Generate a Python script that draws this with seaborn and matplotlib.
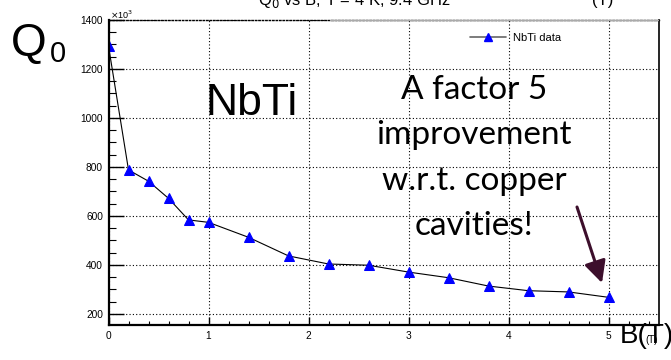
import numpy as np
import pandas as pd
import matplotlib
matplotlib.use("Agg")
import matplotlib.pyplot as plt
from matplotlib.lines import Line2D
import seaborn as sns

# ---- data (Q0 in units of 10^3) ----
B_tesla = [0.0, 0.2, 0.4, 0.6, 0.8, 1.0, 1.4, 1.8, 2.2, 2.6, 3.0, 3.4, 3.8, 4.2, 4.6, 5.0]
Q0_e3 = [1294, 788, 742, 672, 584, 574, 513, 437, 404, 399, 371, 348, 314, 295, 290, 268]
x_ticks = [0, 1, 2, 3, 4, 5]
y_ticks = [200, 400, 600, 800, 1000, 1200, 1400]
series_label = "NbTi data"
annotation_lines = ["A factor 5", "improvement", "w.r.t. copper", "cavities!"]

df = pd.DataFrame({"B": B_tesla, "Q0": Q0_e3})

sns.set_theme(style="white")
plt.rcParams["font.family"] = ["Liberation Sans", "DejaVu Sans"]
plt.rcParams["text.color"] = "black"
plt.rcParams["axes.labelcolor"] = "black"
plt.rcParams["xtick.color"] = "black"
plt.rcParams["ytick.color"] = "black"

W, H = 671, 360
fig = plt.figure(figsize=(W / 100, H / 100), dpi=100)
ax = fig.add_axes([108.5 / W, 35 / H, 550 / W, 305 / H])

sns.lineplot(data=df, x="B", y="Q0", ax=ax, color="black", linewidth=0.8,
             marker="^", markersize=6.5, markerfacecolor="blue",
             markeredgecolor="blue", legend=False)

ax.set_xlim(0, 5.5)
ax.set_ylim(155, 1400)
ax.set_xticks(x_ticks)
ax.set_xticklabels([str(t) for t in x_ticks])
ax.set_yticks(y_ticks)
ax.set_yticklabels([str(t) for t in y_ticks])
ax.set_xticks(np.arange(0, 5.5, 0.2), minor=True)
ax.set_yticks(np.arange(200, 1400, 50), minor=True)
ax.set_xlabel("")
ax.set_ylabel("")

ax.tick_params(axis="both", which="major", direction="in", labelsize=7.3,
               colors="black", width=1.0)
ax.tick_params(axis="both", which="minor", direction="in", colors="black")
ax.tick_params(axis="y", which="major", length=11, pad=4, left=True)
ax.tick_params(axis="y", which="minor", length=5, width=0.8, left=True)
ax.tick_params(axis="x", which="major", length=6, pad=4, bottom=True)
ax.tick_params(axis="x", which="minor", length=3, width=0.8, bottom=True)

ax.grid(True, which="major", color="black", linestyle=(0, (1, 2)), linewidth=0.8)

for side in ["left", "bottom"]:
    ax.spines[side].set_linewidth(1.6)
    ax.spines[side].set_color("black")
ax.spines["right"].set_linewidth(1.2)
ax.spines["right"].set_color("black")
ax.spines["top"].set_linewidth(1.0)
ax.spines["top"].set_color("black")
ax.spines["top"].set_linestyle((0, (1, 1.5)))

# legend
handle = Line2D([], [], color="#666666", linewidth=1.2, marker="^",
                markersize=6, markerfacecolor="blue", markeredgecolor="blue")
leg = ax.legend([handle], [series_label], loc="upper left",
                bbox_to_anchor=((470 - 108.5) / 550, (360 - 33 - 35) / 305),
                frameon=False, fontsize=8, handlelength=3.2, handletextpad=0.7,
                borderpad=0, borderaxespad=0)
for t in leg.get_texts():
    t.set_color("black")

def fp(x, y):
    return (x / W, 1 - y / H)

# ×10^3 multiplier
fig.text(*fp(110, 19), r"$\times$10$^{3}$", fontsize=6.5, ha="left", va="baseline")

# Q0 y-label
fig.text(*fp(11, 56), "Q", fontsize=33, ha="left", va="baseline")
fig.text(*fp(50, 62), "0", fontsize=21, ha="left", va="baseline")

# clipped title
fig.text(*fp(258, 5), r"Q$_0$ vs B, T = 4 K, 9.4 GHz", fontsize=12,
         ha="left", va="baseline")
fig.text(*fp(592, 5), "(T)", fontsize=12, ha="left", va="baseline")
fig.add_artist(Line2D([330 / W, 658 / W], [1 - 19.5 / H, 1 - 19.5 / H],
                      color="#aaaaaa", linewidth=1.0))

# NbTi label
fig.text(*fp(205, 115), "NbTi", fontsize=32, ha="left", va="baseline")

# annotation
baselines = [99, 144, 190, 235]
for line, yb in zip(annotation_lines, baselines):
    fig.text(*fp(474, yb), line, fontsize=24, ha="center", va="baseline",
             family=["Lato", "DejaVu Sans"])

# arrow
ax.annotate("", xy=(602, H - 283), xytext=(577, H - 207),
            xycoords="figure pixels", textcoords="figure pixels",
            arrowprops=dict(arrowstyle="-|>,head_length=1.1,head_width=0.55",
                            color="#3d0f2c", linewidth=2.2,
                            shrinkA=0, shrinkB=0))

# x axis title B(T)
fig.text(*fp(620, 343), "B(T)", fontsize=20, ha="left", va="baseline")
fig.text(*fp(645, 343), "(T)", fontsize=7, ha="left", va="baseline")

fig.savefig("out.png", dpi=100)
